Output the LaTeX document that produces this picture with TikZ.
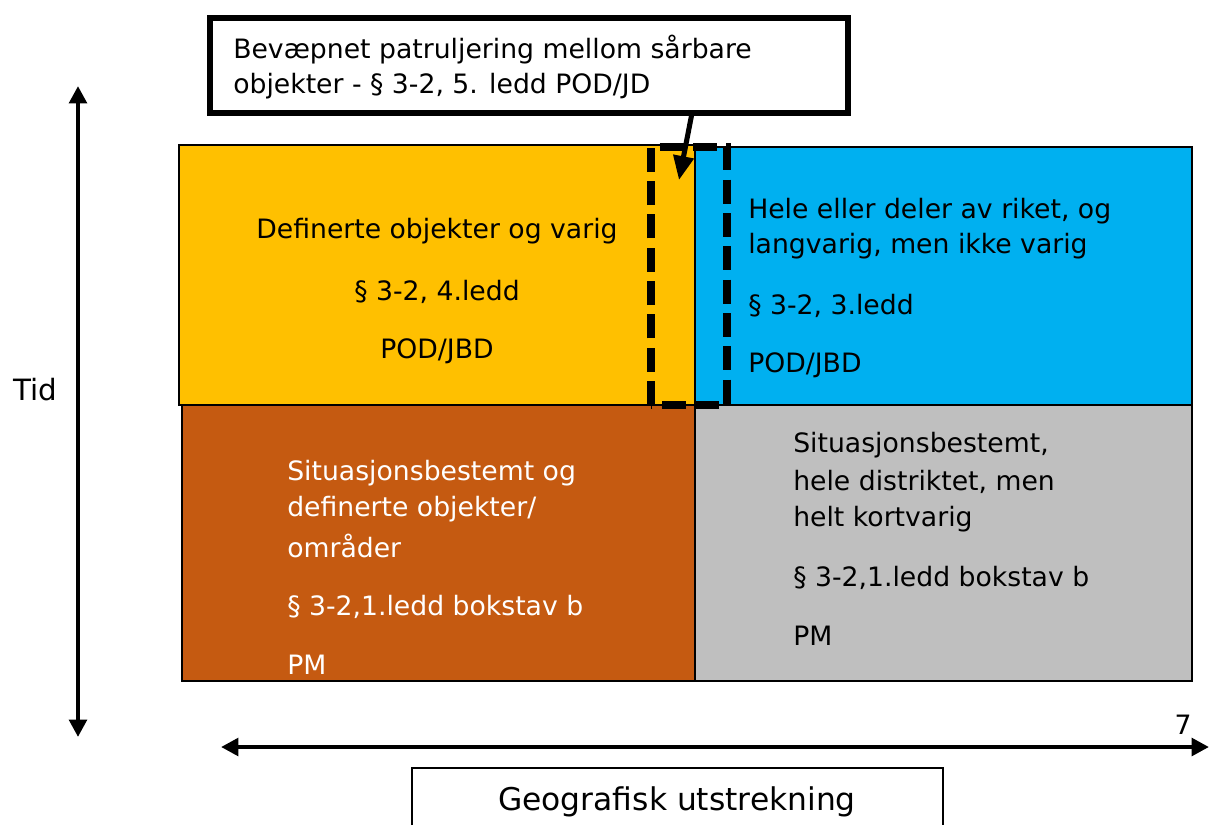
\documentclass[tikz,border=0pt]{standalone}
\usepackage{fontspec}
\setmainfont{DejaVu Sans}
\usetikzlibrary{arrows.meta}
\definecolor{cyellow}{HTML}{FFC000}
\definecolor{cblue}{HTML}{00B0F0}
\definecolor{cbrown}{HTML}{C55A11}
\definecolor{cgray}{HTML}{BFBFBF}
\tikzset{
  txt/.style={font=\fontsize{20}{27}\selectfont, inner sep=0pt},
  axis/.style={line width=3.5pt, {Triangle[length=13pt,width=13pt]}-{Triangle[length=13pt,width=13pt]}},
  callarrow/.style={line width=3.8pt, -{Triangle[length=18pt,width=15pt]}},
}
\begin{document}
\begin{tikzpicture}[x=0.75pt,y=-0.75pt]
\useasboundingbox (0,0) rectangle (1209,825);
% cells
\fill[cyellow] (179,145) rectangle (695,405);
\fill[cblue] (695,147) rectangle (1192,405);
\fill[cbrown] (182,405) rectangle (695,681);
\fill[cgray] (695,405) rectangle (1192,681);
\draw[line width=1.5pt] (179,145) rectangle (695,405);
\draw[line width=1.2pt] (695,147) rectangle (1192,405);
\draw[line width=1.5pt] (182,405) rectangle (695,681);
\draw[line width=1.2pt] (695,405) rectangle (1192,681);
% dashed region
\draw[line width=6pt, dash pattern=on 18pt off 7pt] (651,405) -- (651,147) -- (727,147) -- (727,405) -- cycle;
% texts yellow
\node[txt] (y1) at (437,231) {Definerte objekter og varig};
\node[txt] (y2) at (437,292) {§ 3-2, 4.ledd};
\node[txt] (y3) at (437,351) {POD/JBD};
% blue
\node[txt, anchor=west] (b1) at (748,211) {Hele eller deler av riket, og};
\node[txt, anchor=west] (b2) at (748,246) {langvarig, men ikke varig};
\node[txt, anchor=west] (b3) at (748,306) {§ 3-2, 3.ledd};
\node[txt, anchor=west] (b4) at (748,365) {POD/JBD};
% brown
\node[txt, anchor=west, text=white] (r1) at (287,473) {Situasjonsbestemt og};
\node[txt, anchor=west, text=white] (r2) at (287,509) {definerte objekter/};
\node[txt, anchor=west, text=white] (r3) at (287,546) {områder};
\node[txt, anchor=west, text=white] (r4) at (287,607) {§ 3-2,1.ledd bokstav b};
\node[txt, anchor=west, text=white] (r5) at (287,665) {PM};
% gray
\node[txt, anchor=west] (g1) at (793,445) {Situasjonsbestemt,};
\node[txt, anchor=west] (g2) at (793,482) {hele distriktet, men};
\node[txt, anchor=west] (g3) at (793,519) {helt kortvarig};
\node[txt, anchor=west] (g4) at (793,578) {§ 3-2,1.ledd bokstav b};
\node[txt, anchor=west] (g5) at (793,636) {PM};
% callout
\draw[line width=3.8pt, fill=white] (210,18) rectangle (848,113);
\node[txt, anchor=west] (c1) at (233,50) {Bevæpnet patruljering mellom sårbare};
\node[txt, anchor=west] (c2) at (233,86) {objekter - § 3-2, 5. ledd POD/JD};
\coordinate (cbase) at (692,113);
\coordinate (ctip) at (679,180);
\draw[callarrow] (cbase) -- (ctip);
% axes
\coordinate (vt) at (78,86);
\coordinate (vb) at (78,737);
\draw[axis] (vb) -- (vt);
\coordinate (hl) at (221,747);
\coordinate (hr) at (1209,747);
\draw[axis] (hl) -- (hr);
\node[txt, font=\fontsize{22}{26}\selectfont] (tid) at (35,390) {Tid};
\node[txt, font=\fontsize{20}{24}\selectfont] (seven) at (1183,725) {7};
% geografisk box
\draw[line width=0.8pt, fill=white] (412,825) -- (412,768) -- (943,768) -- (943,825);
\node[txt, font=\fontsize{23.5}{28}\selectfont] (geo) at (677,802) {Geografisk utstrekning};
\end{tikzpicture}
\end{document}
